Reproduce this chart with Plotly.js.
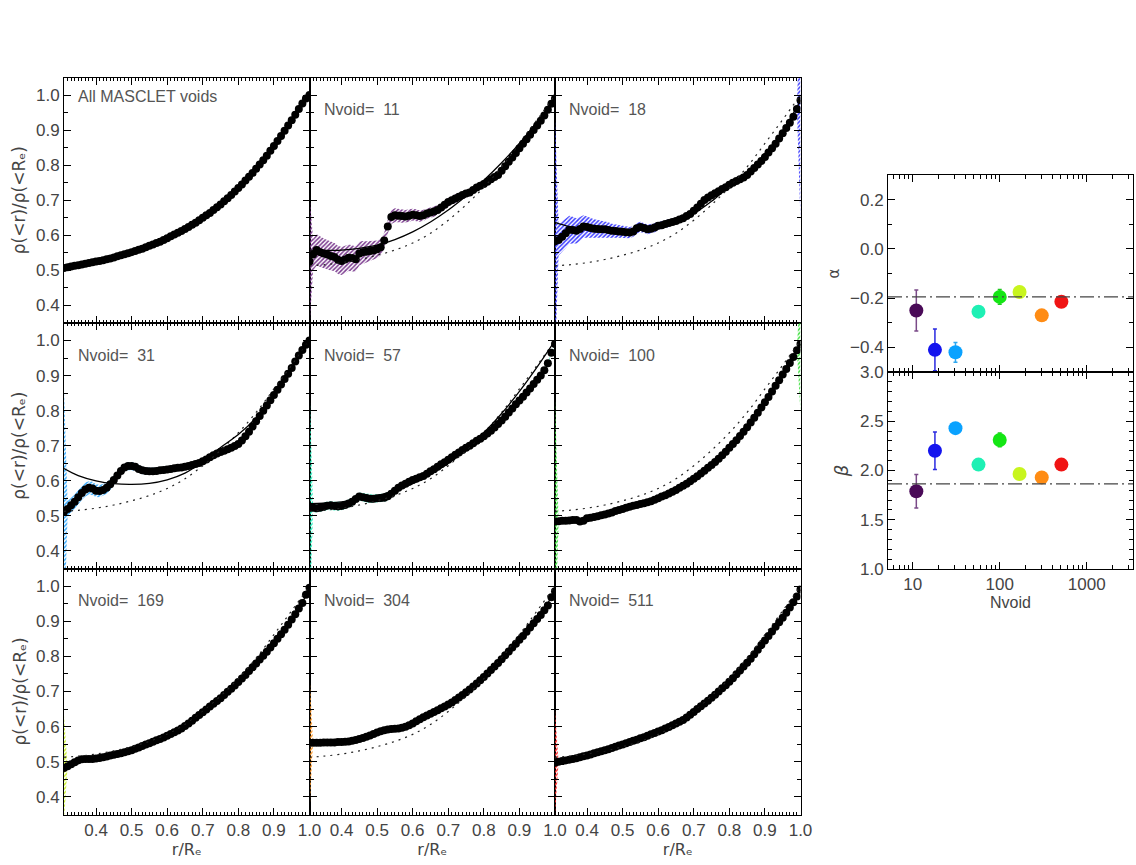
<!DOCTYPE html>
<html><head><meta charset="utf-8">
<script src="https://cdn.plot.ly/plotly-3.0.1.min.js"></script>
<style>html,body{margin:0;padding:0;background:#fff;}#chart{width:1136px;height:865px;}</style>
</head><body><div id="chart"></div>
<script>
// ---------- DATA ----------
const rGrid = [0.31,0.32,0.33,0.34,0.35,0.36,0.37,0.38,0.39,0.40,
 0.41,0.42,0.43,0.44,0.45,0.46,0.47,0.48,0.49,0.50,
 0.51,0.52,0.53,0.54,0.55,0.56,0.57,0.58,0.59,0.60,
 0.61,0.62,0.63,0.64,0.65,0.66,0.67,0.68,0.69,0.70,
 0.71,0.72,0.73,0.74,0.75,0.76,0.77,0.78,0.79,0.80,
 0.81,0.82,0.83,0.84,0.85,0.86,0.87,0.88,0.89,0.90,
 0.91,0.92,0.93,0.94,0.95,0.96,0.97,0.98,0.99,1.00];
const rFit = [0.31,0.35,0.40,0.45,0.50,0.55,0.60,0.65,0.70,0.75,0.80,0.85,0.90,0.95,1.00];

const panelLabels = ["All MASCLET voids","Nvoid=\u00a0 11","Nvoid=\u00a0 18","Nvoid=\u00a0 31","Nvoid=\u00a0 57","Nvoid=\u00a0 100","Nvoid=\u00a0 169","Nvoid=\u00a0 304","Nvoid=\u00a0 511"];
const yTitle = 'ρ(&lt;r)/ρ(&lt;R\u2091)';
const xTitle = 'r/R\u2091';

const profAll = [.507,.509,.511,.513,.515,.517,.519,.521,.523,.525,
 .527,.529,.532,.534,.537,.540,.543,.546,.549,.552,
 .555,.559,.562,.566,.570,.574,.578,.582,.587,.592,
 .597,.602,.607,.612,.618,.624,.630,.636,.643,.650,
 .657,.664,.672,.680,.688,.697,.706,.715,.725,.735,
 .745,.756,.767,.778,.790,.802,.814,.827,.841,.855,
 .869,.883,.898,.913,.928,.944,.960,.976,.990,1.000];
const prof11 = [.525,.545,.558,.552,.548,.545,.541,.538,.530,.527,
 .531,.536,.535,.532,.548,.552,.553,.555,.557,.560,
 .566,.585,.625,.652,.657,.656,.655,.654,.656,.659,
 .657,.655,.657,.662,.665,.668,.672,.679,.687,.695,
 .700,.705,.710,.715,.719,.722,.729,.736,.741,.746,
 .753,.760,.766,.772,.784,.797,.810,.822,.835,.848,
 .861,.874,.887,.900,.913,.927,.942,.958,.975,.990];
const prof18 = [.583,.587,.596,.606,.616,.615,.613,.618,.625,.624,
 .621,.619,.618,.617,.617,.615,.613,.612,.611,.610,
 .609,.608,.611,.620,.624,.621,.617,.619,.622,.627,
 .629,.632,.635,.638,.641,.645,.649,.655,.661,.670,
 .679,.690,.701,.708,.714,.720,.726,.732,.737,.744,
 .750,.755,.760,.765,.772,.782,.792,.802,.812,.823,
 .836,.848,.861,.876,.891,.906,.921,.938,.960,.985];
const prof31 = [.512,.520,.530,.540,.553,.565,.575,.580,.578,.572,
 .571,.574,.580,.590,.602,.615,.628,.638,.642,.642,
 .640,.634,.630,.628,.627,.627,.628,.630,.631,.632,
 .634,.636,.637,.638,.640,.642,.645,.648,.651,.656,
 .661,.667,.673,.678,.682,.686,.690,.694,.699,.705,
 .715,.727,.740,.755,.770,.785,.800,.815,.830,.845,
 .860,.875,.890,.905,.922,.940,.957,.973,.988,1.000];
const prof57 = [.524,.523,.522,.523,.526,.529,.530,.528,.527,.528,
 .531,.535,.540,.548,.555,.553,.551,.549,.549,.550,
 .551,.552,.556,.563,.572,.580,.587,.592,.597,.602,
 .606,.610,.614,.620,.627,.633,.640,.647,.653,.660,
 .667,.674,.681,.688,.694,.700,.707,.714,.720,.727,
 .735,.743,.752,.762,.772,.783,.795,.806,.818,.829,
 .840,.852,.863,.876,.888,.900,.915,.935,.965,.990];
const prof100 = [.484,.485,.486,.486,.487,.488,.488,.484,.486,.493,
 .495,.497,.499,.502,.504,.507,.510,.514,.517,.520,
 .523,.526,.529,.531,.534,.536,.539,.542,.546,.550,
 .555,.559,.564,.569,.574,.580,.586,.592,.599,.606,
 .613,.621,.629,.637,.645,.654,.663,.673,.683,.694,
 .705,.716,.728,.740,.753,.766,.780,.794,.809,.824,
 .839,.855,.871,.887,.903,.919,.936,.953,.972,.990];
const prof169 = [.482,.487,.493,.499,.504,.507,.508,.508,.508,.509,
 .511,.513,.515,.518,.520,.522,.524,.527,.530,.533,
 .537,.541,.545,.549,.553,.557,.561,.565,.569,.574,
 .579,.584,.589,.595,.602,.609,.617,.625,.633,.641,
 .649,.657,.665,.673,.681,.690,.699,.708,.717,.727,
 .737,.747,.758,.769,.780,.791,.802,.813,.825,.837,
 .850,.863,.876,.890,.905,.920,.936,.952,.975,.995];
const prof304 = [.554,.554,.554,.554,.555,.555,.555,.555,.556,.556,
 .557,.558,.560,.562,.565,.568,.571,.575,.579,.583,
 .587,.590,.592,.593,.594,.595,.597,.600,.604,.609,
 .615,.621,.627,.632,.637,.642,.647,.652,.657,.663,
 .669,.676,.683,.690,.698,.706,.714,.723,.732,.741,
 .751,.761,.771,.781,.792,.803,.814,.825,.836,.847,
 .858,.870,.882,.894,.906,.918,.931,.945,.968,.985];
const prof511 = [.497,.500,.502,.504,.506,.508,.510,.513,.516,.518,
 .521,.524,.527,.530,.533,.536,.539,.543,.546,.549,
 .553,.556,.560,.563,.567,.570,.574,.578,.582,.586,
 .590,.595,.599,.604,.609,.614,.619,.626,.634,.642,
 .650,.658,.666,.674,.682,.691,.700,.709,.718,.728,
 .738,.749,.760,.771,.782,.793,.806,.819,.832,.845,
 .858,.871,.884,.897,.910,.924,.939,.954,.970,.990];

// half-widths of the hatched error bands
const err11 = [.19,.045,.045,.044,.043,.042,.041,.040,.040,.040,
 .039,.038,.037,.036,.034,.032,.030,.028,.026,.025,
 .024,.022,.020,.020,.020,.019,.019,.018,.018,.017,
 .017,.016,.016,.015,.015,.015,.014,.014,.013,.013,
 .013,.012,.012,.012,.011,.011,.011,.010,.010,.010,
 .009,.008,.004,.004,.003,.003,.003,.003,.003,.003,
 .003,.003,.003,.003,.003,.003,.003,.003,.003,.003];
const err18 = [.35,.045,.044,.042,.040,.038,.036,.034,.032,.030,
 .028,.027,.026,.025,.024,.022,.020,.019,.018,.017,
 .016,.016,.015,.015,.015,.014,.014,.013,.013,.012,
 .012,.011,.011,.010,.010,.009,.009,.008,.008,.008,
 .004,.004,.004,.004,.004,.004,.004,.004,.004,.004,
 .004,.004,.004,.004,.004,.004,.004,.004,.004,.004,
 .004,.004,.004,.004,.004,.004,.004,.004,.004,.35];
const err31 = [.35,.022,.022,.021,.021,.020,.020,.019,.019,.018,
 .018,.017,.017,.016,.015,.013,.012,.012,.012,.012,
 .011,.011,.011,.010,.010,.010,.010,.009,.009,.009,
 .005,.005,.005,.005,.005,.005,.005,.005,.005,.005,
 .004,.004,.004,.004,.004,.004,.004,.004,.004,.004,
 .004,.004,.004,.004,.004,.004,.004,.004,.004,.004,
 .004,.004,.004,.004,.004,.004,.004,.004,.004,.004];
const err57 = [.35,.012,.012,.012,.012,.012,.012,.012,.012,.012,
 .012,.012,.012,.012,.012,.012,.012,.012,.012,.012,
 .012,.012,.012,.012,.012,.004,.004,.004,.004,.004,
 .004,.004,.004,.004,.004,.004,.004,.004,.004,.004,
 .004,.004,.004,.004,.004,.004,.004,.004,.004,.004,
 .004,.004,.004,.004,.004,.004,.004,.004,.004,.004,
 .004,.004,.004,.004,.004,.004,.004,.004,.004,.004];
const err100 = [.35,.008,.008,.008,.008,.008,.008,.008,.008,.008,
 .008,.008,.008,.008,.008,.003,.003,.003,.003,.003,
 .003,.003,.003,.003,.003,.003,.003,.003,.003,.003,
 .003,.003,.003,.003,.003,.003,.003,.003,.003,.003,
 .003,.003,.003,.003,.003,.003,.003,.003,.003,.003,
 .003,.003,.003,.003,.003,.003,.003,.003,.003,.003,
 .003,.003,.003,.003,.003,.003,.003,.003,.003,.20];
const err169 = [.15,.002,.002,.002,.002,.002,.002,.002,.002,.002,
 .002,.002,.002,.002,.002,.002,.002,.002,.002,.002,
 .002,.002,.002,.002,.002,.002,.002,.002,.002,.002,
 .002,.002,.002,.002,.002,.002,.002,.002,.002,.002,
 .002,.002,.002,.002,.002,.002,.002,.002,.002,.002,
 .002,.002,.002,.002,.002,.002,.002,.002,.002,.002,
 .002,.002,.002,.002,.002,.002,.002,.002,.002,.002];
const err304 = [.20,.002,.002,.002,.002,.002,.002,.002,.002,.002,
 .002,.002,.002,.002,.002,.002,.002,.002,.002,.002,
 .002,.002,.002,.002,.002,.002,.002,.002,.002,.002,
 .002,.002,.002,.002,.002,.002,.002,.002,.002,.002,
 .002,.002,.002,.002,.002,.002,.002,.002,.002,.002,
 .002,.002,.002,.002,.002,.002,.002,.002,.002,.002,
 .002,.002,.002,.002,.002,.002,.002,.002,.002,.002];
const err511 = [.15,.002,.002,.002,.002,.002,.002,.002,.002,.002,
 .002,.002,.002,.002,.002,.002,.002,.002,.002,.002,
 .002,.002,.002,.002,.002,.002,.002,.002,.002,.002,
 .002,.002,.002,.002,.002,.002,.002,.002,.002,.002,
 .002,.002,.002,.002,.002,.002,.002,.002,.002,.002,
 .002,.002,.002,.002,.002,.002,.002,.002,.002,.002,
 .002,.002,.002,.002,.002,.002,.002,.002,.002,.002];

// best-fit curves (solid) and the all-voids fit (dotted), sampled on rFit
const fit11 = [.558,.557,.558,.563,.572,.588,.610,.638,.672,.712,.757,.807,.862,.925,.990];
const fit18 = [.637,.625,.617,.614,.614,.618,.626,.640,.662,.697,.740,.779,.832,.897,.985];
const fit31 = [.635,.615,.600,.592,.590,.593,.603,.622,.655,.695,.732,.780,.845,.922,1.000];
const fit57 = [.535,.536,.540,.548,.558,.572,.592,.618,.650,.690,.737,.792,.855,.925,1.000];
const fit100 = [.487,.489,.494,.504,.520,.534,.550,.574,.606,.645,.694,.753,.824,.903,.990];
const fit169 = [.485,.503,.510,.521,.534,.553,.575,.602,.641,.681,.727,.780,.837,.905,.990];
const fit304 = [.555,.555,.556,.565,.583,.594,.609,.637,.663,.698,.741,.792,.847,.906,.985];
const fit511 = [.508,.510,.518,.533,.549,.567,.586,.609,.642,.682,.728,.782,.845,.910,.990];
const fitAllVoids = [.513,.516,.522,.531,.543,.558,.578,.606,.643,.687,.737,.795,.862,.930,1.000];

// right-hand panels
const nVoid = [11,18,31,57,100,169,304,511];
const alphaVal = [-0.25,-0.41,-0.42,-0.255,-0.195,-0.175,-0.27,-0.215];
const alphaErr = [0.083,0.085,0.04,0.02,0.03,0.01,0.005,0.005];
const betaVal = [1.79,2.20,2.43,2.06,2.31,1.965,1.93,2.06];
const betaErr = [0.17,0.19,0.01,0.01,0.07,0.01,0.01,0.01];
const alphaRef = -0.195;
const betaRef = 1.865;

// ---------- STYLE ----------
const ptColors = ['#4a0a58','#1414ee','#0aa2ff','#1ef0b4','#14e614','#c8f51e','#ff8c14','#f01414'];
const errColors = ['#7a4a88','#2a2ae0','#30a8f0','#30e8b8','#20c820','#b8e020','#ff9a30','#f02a2a'];
const bandColors = [null,'#7b3b8f','#3a3aff','#35aaff','#2cf0c0','#3de03d','#c8f028','#ff9a2a','#ff2a2a'];

const profiles = [profAll,prof11,prof18,prof31,prof57,prof100,prof169,prof304,prof511];
const errs = [null,err11,err18,err31,err57,err100,err169,err304,err511];
const fits = [null,fit11,fit18,fit31,fit57,fit100,fit169,fit304,fit511];

const W=1136,H=865;
const colPx=[[64,309.5],[309.5,555],[555,800.5]];
const rowPx=[[77.5,323],[323,568.5],[568.5,814.5]];
const xd=a=>[a[0]/W,a[1]/W];
const yd=a=>[1-a[1]/H,1-a[0]/H];
const FF='"Liberation Sans", Arial, Helvetica, sans-serif';
const TF='"DejaVu Sans", "Liberation Sans", sans-serif';
const TICKF={family:FF,size:17,color:'#444'};

const traces=[];
const layout={width:W,height:H,margin:{l:0,r:0,t:0,b:0},paper_bgcolor:'#fff',plot_bgcolor:'#fff',
  showlegend:false,annotations:[],shapes:[]};

function axBase(){
  return {showline:true,linecolor:'#000',linewidth:1,mirror:'ticks',ticks:'inside',tickcolor:'#000',
    ticklen:7,tickwidth:1,showgrid:false,zeroline:false,tickfont:TICKF,fixedrange:true};
}

for(let i=0;i<9;i++){
  const row=Math.floor(i/3), col=i%3, id=i+1;
  const xs = id===1?'x':'x'+id, ys = id===1?'y':'y'+id;
  const xa=Object.assign(axBase(),{domain:xd(colPx[col]),range:[0.31,1.0],anchor:ys,dtick:0.1,tick0:0,
    tickformat:'.1f',showticklabels:row===2,
    minor:{ticks:'inside',dtick:0.01,tick0:0,ticklen:3,tickcolor:'#000',showgrid:false}});
  if(row===2){ xa.title={text:xTitle,font:{family:TF,size:16,color:'#444'},standoff:3}; }
  const ya=Object.assign(axBase(),{domain:yd(rowPx[row]),range:[0.35,1.05],anchor:xs,dtick:0.1,tick0:0,
    tickformat:'.1f',showticklabels:col===0,
    minor:{ticks:'inside',dtick:0.05,tick0:0,ticklen:4,tickcolor:'#000',showgrid:false}});
  layout[id===1?'xaxis':'xaxis'+id]=xa;
  layout[id===1?'yaxis':'yaxis'+id]=ya;
  if(col===0){
    layout.annotations.push({text:yTitle,textangle:-90,xref:'paper',x:19/W,xanchor:'center',
      yref:ys+' domain',y:0.5,yanchor:'middle',showarrow:false,font:{family:TF,size:17,color:'#444'}});
  }

  const prof=profiles[i], e=errs[i];
  if(e){
    const up=prof.map((v,k)=>v+e[k]);
    const lo=prof.map((v,k)=>v-e[k]);
    traces.push({x:rGrid.concat(rGrid.slice().reverse()),y:up.concat(lo.slice().reverse()),
      xaxis:xs,yaxis:ys,mode:'lines',fill:'toself',line:{width:0,color:'rgba(0,0,0,0)'},
      fillcolor:'rgba(0,0,0,0)',
      fillpattern:{shape:'/',fgcolor:bandColors[i],bgcolor:'rgba(0,0,0,0)',size:3,solidity:0.5},
      hoverinfo:'skip'});
  }
  traces.push({x:rGrid,y:prof,xaxis:xs,yaxis:ys,mode:'markers',
    marker:{symbol:'circle',size:8,color:'#000',line:{width:0}},hoverinfo:'skip'});
  if(fits[i]){
    traces.push({x:rFit,y:fitAllVoids,xaxis:xs,yaxis:ys,mode:'lines',
      line:{color:'#222',width:1.2,dash:'2px,5px',shape:'spline'},hoverinfo:'skip'});
    traces.push({x:rFit,y:fits[i],xaxis:xs,yaxis:ys,mode:'lines',
      line:{color:'#000',width:1.3,shape:'spline'},hoverinfo:'skip'});
  }
  layout.annotations.push({text:panelLabels[i],xref:xs+' domain',yref:ys+' domain',
    x:12/245,y:i===0?1-19/245:1-32/245,xanchor:'left',yanchor:'middle',showarrow:false,
    font:{family:FF,size:16,color:'#555'}});
}

// right-hand panels: alpha (x10/y10), beta (x11/y11)
const rx=[888,1133];
const logRange=[Math.log10(5.2),Math.log10(3400)];
layout.xaxis10=Object.assign(axBase(),{domain:xd(rx),type:'log',range:logRange,anchor:'y10',dtick:1,
  showticklabels:false,minor:{ticks:'inside',dtick:'D1',ticklen:4,tickcolor:'#000',showgrid:false}});
layout.xaxis11=Object.assign(axBase(),{domain:xd(rx),type:'log',range:logRange,anchor:'y11',dtick:1,
  exponentformat:'none',showticklabels:true,
  minor:{ticks:'inside',dtick:'D1',ticklen:4,tickcolor:'#000',showgrid:false},
  title:{text:'Nvoid',font:{family:FF,size:16,color:'#444'},standoff:2}});
layout.yaxis10=Object.assign(axBase(),{domain:yd([175,372]),range:[-0.5,0.3],anchor:'x10',dtick:0.2,tick0:0,
  tickformat:'.1f',minor:{ticks:'inside',dtick:0.1,tick0:0,ticklen:4,tickcolor:'#000',showgrid:false},
  title:{text:'α',font:{family:TF,size:15,color:'#444'},standoff:6}});
layout.yaxis11=Object.assign(axBase(),{domain:yd([372,569]),range:[1,3],anchor:'x11',dtick:0.5,tick0:0,
  tickformat:'.1f',minor:{ticks:'inside',dtick:0.1,tick0:0,ticklen:4,tickcolor:'#000',showgrid:false},
  title:{text:'β',font:{family:TF,size:18,color:'#444',style:'italic'},standoff:6}});

layout.shapes.push({type:'line',xref:'x10 domain',x0:0,x1:1,yref:'y10',y0:alphaRef,y1:alphaRef,
  line:{color:'#444',width:1.2,dash:'14px,4px,2px,4px'}});
layout.shapes.push({type:'line',xref:'x11 domain',x0:0,x1:1,yref:'y11',y0:betaRef,y1:betaRef,
  line:{color:'#444',width:1.2,dash:'14px,4px,2px,4px'}});

for(let i=0;i<nVoid.length;i++){
  traces.push({x:[nVoid[i]],y:[alphaVal[i]],xaxis:'x10',yaxis:'y10',mode:'markers',cliponaxis:true,
    marker:{size:14,color:ptColors[i]},
    error_y:{type:'data',array:[alphaErr[i]],visible:true,color:errColors[i],thickness:1.5,width:2},hoverinfo:'skip'});
  traces.push({x:[nVoid[i]],y:[betaVal[i]],xaxis:'x11',yaxis:'y11',mode:'markers',cliponaxis:true,
    marker:{size:14,color:ptColors[i]},
    error_y:{type:'data',array:[betaErr[i]],visible:true,color:errColors[i],thickness:1.5,width:2},hoverinfo:'skip'});
}

Plotly.newPlot('chart',traces,layout,{staticPlot:true,displayModeBar:false});
</script>
</body></html>
